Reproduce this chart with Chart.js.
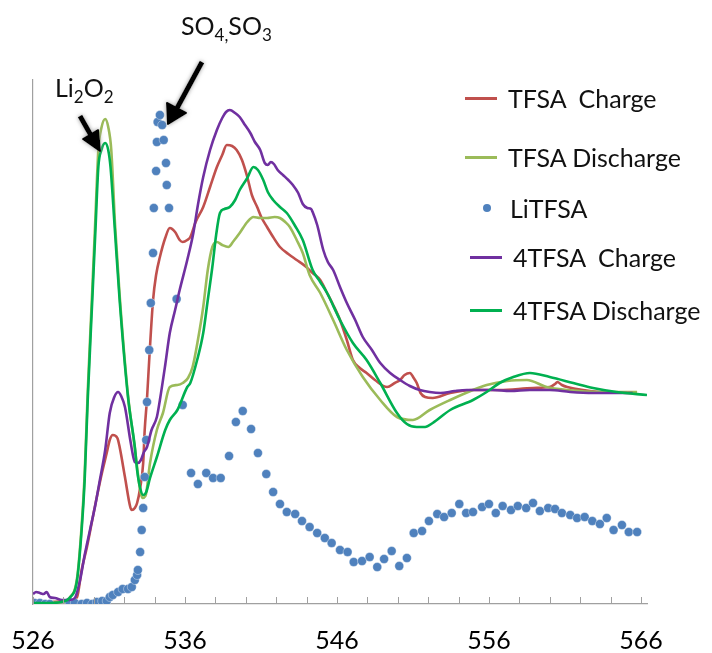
<!DOCTYPE html>
<html>
<head>
<meta charset="utf-8">
<script src="https://cdn.jsdelivr.net/npm/chart.js@4"></script>
<style>
  html, body { margin:0; padding:0; background:#fff; }
  #wrap { position:relative; width:712px; height:653px; font-family: Lato, "Open Sans", sans-serif; }
  canvas { position:absolute; left:0; top:0; }
  .lg { position:absolute; display:flex; align-items:center; height:30px; font-size:25px; color:#111; white-space:pre; }
  .sw { width:32px; height:3px; margin-right:11px; }
  .dot { width:8px; height:8px; border-radius:50%; margin-right:19px; margin-left:18px; }
  .ann { position:absolute; font-size:25px; color:#111; white-space:pre; line-height:1; }
  .ann sub { font-size:17px; vertical-align:-6px; line-height:0; }
  svg { position:absolute; left:0; top:0; }
</style>
</head>
<body>
<div id="wrap">
  <canvas id="c" width="712" height="653"></canvas>
  <div id="legend"></div>
  <div class="ann" style="left:55px;top:75px;">Li<sub>2</sub>O<sub>2</sub></div>
  <div class="ann" style="left:181px;top:13px;">SO<sub>4,</sub>SO<sub>3</sub></div>
  <svg width="712" height="653">
    <defs>
      <filter id="sh" x="-50%" y="-50%" width="200%" height="200%">
        <feGaussianBlur in="SourceAlpha" stdDeviation="2" result="b"/>
        <feFlood flood-color="#999" result="f"/>
        <feComposite in="f" in2="b" operator="in" result="s"/>
        <feMerge><feMergeNode in="s"/><feMergeNode in="SourceGraphic"/></feMerge>
      </filter>
    </defs>
    <g filter="url(#sh)" fill="#000" stroke="#000" stroke-linejoin="round">
      <line x1="80" y1="116" x2="93" y2="139" stroke-width="5"/>
      <polygon points="100,151 83,139 98,130" stroke-width="2"/>
      <line x1="202" y1="62" x2="176" y2="110" stroke-width="5"/>
      <polygon points="168,124 167,103 186,113" stroke-width="2"/>
    </g>
  </svg>
</div>
<script>
// ---- data (x: energy / eV, y: intensity a.u.) ----
const xTickValues = [526,528,530,532,534,536,538,540,542,544,546,548,550,552,554,556,558,560,562,564,566];
const xLabelValues = [526,536,546,556,566];

const seriesNames = ["TFSA  Charge", "TFSA Discharge", "LiTFSA", "4TFSA  Charge", "4TFSA Discharge"];
const seriesColors = ["#c0504d", "#9bbb59", "#4f81bd", "#7030a0", "#00b050"];

const tfsaChargeX = [526.0,527.1,528.4,528.9,529.2,529.55,529.9,530.2,530.55,530.85,531.05,531.25,531.55,531.7,532.05,532.4,532.5,532.7,532.85,533.05,533.25,533.35,533.5,533.65,533.9,534.1,534.35,534.7,535.0,535.35,535.65,535.85,536.15,536.35,536.7,537.2,537.65,538.1,538.45,538.75,539.1,539.4,539.75,540.1,540.4,540.75,541.05,541.4,541.8,542.25,542.8,543.35,543.9,544.4,544.9,545.35,545.75,546.2,546.65,547.05,547.5,547.95,548.5,549.3,549.8,550.15,550.45,550.8,551.05,551.25,551.5,551.8,552.3,553.45,554.95,556.7,558.9,560.0,560.35,560.5,560.8,561.15,563.3,565.45];
const tfsaChargeY = [1,2,3,7,34,57,84,107,132,151,164,169,166,157,127,97,94,96,101,116,141,174,205,245,304,329,347,366,376,372,364,362,364,367,382,397,417,437,449,459,458,454,444,427,409,397,386,377,367,357,350,344,338,331,324,311,299,284,264,244,236,231,224,217,221,224,229,231,226,221,211,207,206,211,214,214,216,217,220,222,219,217,212,211];

const tfsaDischargeX = [526.0,527.1,528.1,528.4,528.9,529.2,529.4,529.6,529.9,530.1,530.3,530.5,530.75,530.95,531.15,531.4,531.7,532.25,532.7,533.05,533.2,533.4,533.7,534.15,534.55,535.0,535.5,535.85,536.2,536.5,536.85,537.2,537.5,537.8,538.1,538.45,538.85,539.2,539.6,540.1,540.5,540.95,541.4,541.9,542.25,542.6,542.9,543.35,543.75,544.2,544.9,545.75,546.65,547.7,548.85,549.95,551.0,552.1,553.45,554.95,555.85,557.2,558.5,559.8,561.15,563.3,565.75];
const tfsaDischargeY = [1,1,3,6,26,78,130,212,314,384,454,476,485,477,454,379,309,209,156,114,106,108,141,174,191,217,219,221,226,237,264,297,334,357,362,359,357,363,371,382,387,386,386,387,386,382,377,364,351,329,311,284,254,227,204,187,184,194,204,214,219,223,224,217,214,212,212];

const liTfsaX = [526.1,526.45,526.8,527.1,528.4,528.75,529.2,529.55,529.9,530.2,530.55,530.85,531.05,531.25,531.6,531.9,532.25,532.5,532.7,532.85,532.9,533.05,533.15,533.25,533.35,533.45,533.5,533.65,533.75,533.9,533.95,534.1,534.15,534.2,534.35,534.5,534.6,534.75,534.8,534.95,535.45,535.85,536.4,536.85,537.4,537.85,538.35,538.9,539.35,539.8,540.35,540.8,541.35,541.8,542.25,542.7,543.25,543.7,544.2,544.7,545.2,545.65,546.2,546.7,547.1,547.65,548.15,548.65,549.1,549.6,550.1,550.6,551.05,551.6,552.05,552.6,553.05,553.55,554.05,554.5,554.95,555.55,556.0,556.45,556.9,557.45,557.9,558.45,558.9,559.35,559.9,560.35,560.8,561.35,561.8,562.3,562.8,563.3,563.75,564.2,564.75,565.2,565.75];
const liTfsaY = [1,1,0,0,2,1,0,1,0,2,3,3,7,9,12,15,15,17,24,29,34,52,74,96,127,164,202,254,301,351,396,433,462,482,489,479,464,441,419,396,305,199,131,120,131,126,126,148,182,193,175,151,130,112,100,92,90,83,77,71,66,61,54,52,42,43,47,37,45,53,38,46,71,73,83,90,87,91,100,91,92,97,100,91,98,94,98,96,101,93,96,95,91,89,86,87,83,80,86,74,79,72,72];

const fourChargeX = [526.0,526.2,526.45,526.7,526.9,527.1,527.45,527.9,528.4,528.75,529.1,529.4,529.75,530.1,530.4,530.75,531.05,531.35,531.6,531.8,532.05,532.4,532.6,532.7,532.9,533.1,533.3,533.5,533.8,534.15,534.35,534.7,535.0,535.35,535.65,536.15,536.55,536.85,537.2,537.65,538.1,538.45,538.7,538.95,539.3,539.6,539.95,540.3,540.6,540.95,541.25,541.45,541.65,541.85,542.1,542.45,542.8,543.1,543.45,543.75,544.05,544.3,544.4,544.7,545.1,545.4,545.75,546.2,546.65,547.2,547.7,548.3,548.85,549.5,550.15,550.8,551.45,552.1,552.8,553.75,554.55,555.4,556.25,557.4,558.7,560.0,561.35,562.85,564.3,565.45];
const fourChargeY = [10,12,11,10,12,7,6,4,4,6,24,49,74,99,124,154,191,207,212,208,197,164,147,142,141,144,152,157,174,187,204,239,271,294,314,344,371,399,427,454,474,486,492,494,491,487,479,471,462,454,441,439,442,440,434,429,424,419,411,400,396,395,392,379,354,342,334,317,301,284,267,254,241,231,224,218,214,212,211,213,214,214,214,213,214,214,212,211,211,211];

const fourDischargeX = [526.0,527.1,528.1,528.4,528.9,529.2,529.4,529.6,529.9,530.1,530.3,530.5,530.75,530.95,531.1,531.4,531.7,532.25,532.7,532.85,533.05,533.25,533.45,533.7,534.15,534.7,535.0,535.5,536.15,536.35,536.8,537.2,537.5,537.8,538.05,538.3,538.6,538.95,539.3,539.6,540.1,540.5,540.8,541.15,541.45,541.8,542.25,542.7,543.25,543.75,544.4,544.9,545.35,546.2,547.05,547.95,548.85,549.95,550.6,551.25,551.8,552.3,553.45,554.95,555.85,556.7,557.6,558.7,560.0,561.55,562.85,564.4,566.4];
const fourDischargeY = [1,1,3,6,24,74,124,204,304,371,437,454,461,454,437,371,304,207,157,134,116,109,112,126,147,174,184,194,217,221,244,271,304,337,369,391,395,397,404,414,426,437,434,424,412,404,397,391,378,364,334,322,311,284,261,244,221,191,180,177,177,181,194,204,212,221,227,231,227,221,216,212,209];

function pts(xs, ys) {
  const n = Math.min(xs.length, ys.length);
  const out = [];
  for (let i = 0; i < n; i++) out.push({ x: xs[i], y: ys[i] });
  return out;
}

function lineDs(i, xs, ys, order) {
  return {
    label: seriesNames[i], data: pts(xs, ys), borderColor: seriesColors[i],
    backgroundColor: seriesColors[i], borderWidth: 2.6, pointRadius: 0,
    showLine: true, cubicInterpolationMode: 'monotone', order: order, fill: false
  };
}

const datasets = [
  lineDs(0, tfsaChargeX, tfsaChargeY, 5),
  lineDs(1, tfsaDischargeX, tfsaDischargeY, 4),
  { label: seriesNames[2], data: pts(liTfsaX, liTfsaY), showLine: false,
    pointRadius: 4.5, pointBackgroundColor: seriesColors[2], pointBorderColor: 'rgba(255,255,255,0.6)',
    pointBorderWidth: 0.6, order: 3 },
  lineDs(3, fourChargeX, fourChargeY, 2),
  lineDs(4, fourDischargeX, fourDischargeY, 1)
];

const innerTicks = {
  id: 'innerTicks',
  afterDraw(chart) {
    const xs = chart.scales.x, c = chart.ctx, b = chart.chartArea.bottom;
    c.save();
    c.strokeStyle = '#a0a0a0'; c.lineWidth = 1;
    xs.ticks.forEach(t => {
      const p = Math.round(xs.getPixelForValue(t.value)) + 0.5;
      c.beginPath(); c.moveTo(p, b); c.lineTo(p, b - 7); c.stroke();
    });
    c.restore();
  }
};

new Chart(document.getElementById('c'), {
  type: 'scatter',
  data: { datasets },
  options: {
    responsive: false, animation: false, devicePixelRatio: 1,
    layout: { autoPadding: false, padding: { top: 80, right: 65, left: 0, bottom: 0 } },
    plugins: { legend: { display: false }, tooltip: { enabled: false } },
    scales: {
      x: {
        type: 'linear', min: 526, max: 566.4,
        afterBuildTicks: s => { s.ticks = xTickValues.map(v => ({ value: v })); },
        afterFit: s => { s.height = 49; s.paddingLeft = 0; s.paddingRight = 0; },
        ticks: {
          autoSkip: false, maxRotation: 0, padding: 22, color: '#000',
          font: { family: 'Lato', size: 25 },
          callback: v => xLabelValues.includes(v) ? String(v) : ''
        },
        grid: { drawOnChartArea: false, drawTicks: false },
        border: { color: '#a0a0a0', width: 1.2 }
      },
      y: {
        min: 0, max: 524,
        afterFit: s => { s.width = 33; s.paddingTop = 0; s.paddingBottom = 0; },
        ticks: { display: false },
        grid: { drawOnChartArea: false, drawTicks: false },
        border: { color: '#a0a0a0', width: 1.2 }
      }
    }
  },
  plugins: [innerTicks]
});

// legend (HTML text)
const legendRows = [
  { i: 0, left: 465, top: 83, kind: 'line' },
  { i: 1, left: 465, top: 142, kind: 'line' },
  { i: 2, left: 465, top: 193, kind: 'dot' },
  { i: 3, left: 470, top: 242, kind: 'line' },
  { i: 4, left: 470, top: 295, kind: 'line' }
];
const lg = document.getElementById('legend');
legendRows.forEach(r => {
  const d = document.createElement('div');
  d.className = 'lg'; d.style.left = r.left + 'px'; d.style.top = r.top + 'px';
  const s = document.createElement('span');
  s.className = r.kind === 'dot' ? 'dot' : 'sw';
  s.style.background = seriesColors[r.i];
  const t = document.createElement('span'); t.textContent = seriesNames[r.i];
  d.appendChild(s); d.appendChild(t); lg.appendChild(d);
});
</script>
</body>
</html>
